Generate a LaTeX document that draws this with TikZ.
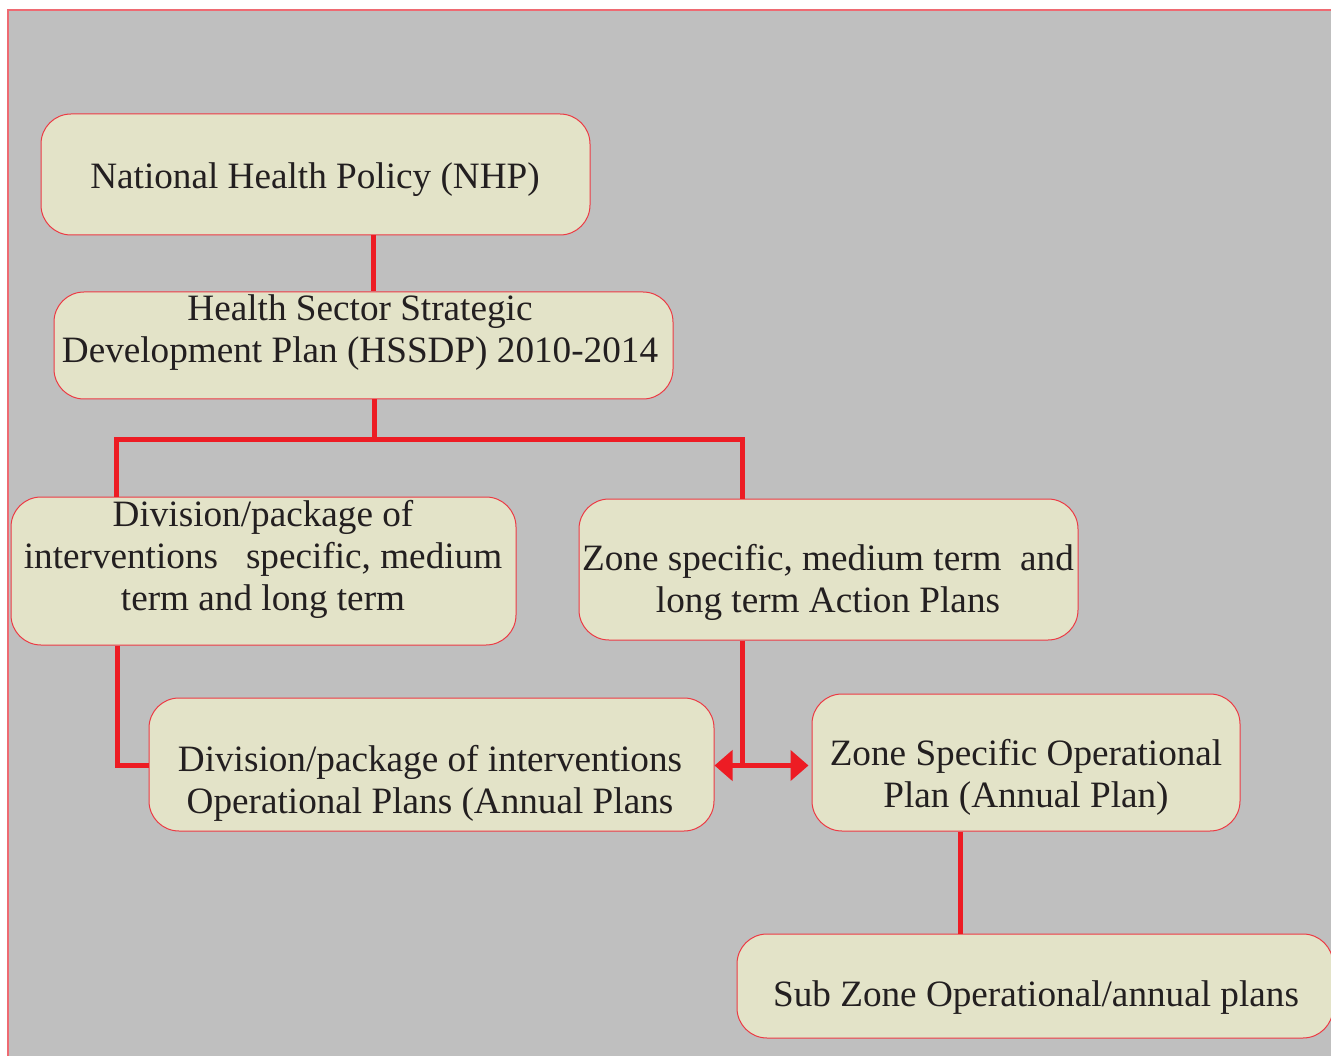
\documentclass[tikz,border=0pt]{standalone}
\usepackage{fontspec}
\setmainfont{Liberation Serif}
\usetikzlibrary{arrows.meta}
\definecolor{bggray}{HTML}{BFBFBF}
\definecolor{boxfill}{HTML}{E3E3C8}
\definecolor{boxline}{HTML}{EC3A44}
\definecolor{framered}{HTML}{EE6A72}
\definecolor{connred}{HTML}{ED1C24}
\definecolor{txt}{HTML}{231F20}
\tikzset{
  box/.style={draw=boxline, line width=1pt, fill=boxfill, rounded corners=30pt, inner sep=0pt},
  lbl/.style={inner sep=0pt, align=center, text=txt, font=\fontsize{37.2}{42}\selectfont},
  conn/.style={draw=connred, line width=5pt},
  tip/.style={-{Triangle[width=30pt,length=18pt]}}
}
\begin{document}
\begin{tikzpicture}[x=1pt,y=-1pt]
\useasboundingbox (0,0) rectangle (1331,1056);
\clip (0,0) rectangle (1331,1056);
\fill[bggray] (8,10) rectangle (1331,1056);
\draw[framered, line width=1.8pt] (8,1056) -- (8,10) -- (1331,10);

% boxes
\node[box, minimum width=549pt, minimum height=121pt] (nhp) at (315.5,174.5) {};
\node[box, minimum width=619pt, minimum height=107pt] (hs) at (363.5,345.5) {};
\node[box, minimum width=505pt, minimum height=148pt] (div) at (263.5,571) {};
\node[box, minimum width=499pt, minimum height=141pt] (zone) at (828.5,569.5) {};
\node[box, minimum width=565pt, minimum height=133pt] (divop) at (431.5,764.5) {};
\node[box, minimum width=428pt, minimum height=137pt] (zoneop) at (1026,762.5) {};
\node[box, minimum width=596pt, minimum height=104pt] (sub) at (1035,986) {};

% texts
\node[lbl] (tnhp) at (315,179.3) {National Health Policy (NHP)};
\node[lbl] (ths) at (360,332.5) {Health Sector Strategic\\Development Plan (HSSDP) 2010-2014};
\node[lbl] (tdiv) at (263,559.5) {Division/package of\\interventions\ \ \ specific, medium\\term and long term};
\node[lbl] (tzone) at (828,582.5) {Zone specific, medium term\ \ and\\long term Action Plans};
\node[lbl] (tdivop) at (430,783.5) {Division/package of interventions\\Operational Plans (Annual Plans};
\node[lbl] (tzoneop) at (1026,777.5) {Zone Specific Operational\\Plan (Annual Plan)};
\node[lbl] (tsub) at (1036,997.4) {Sub Zone Operational/annual plans};

% junction coordinates
\coordinate (t) at (373,260);
\coordinate (b) at (374,440);
\coordinate (bl) at (116,440);
\coordinate (br) at (742,440);
\coordinate (k) at (117,765.5);
\coordinate (j) at (742,765.5);
\coordinate (s) at (960,880);

% connectors
\draw[conn] (nhp.south -| t) -- (hs.north -| t);
\draw[conn] (hs.south -| b) -- (b);
\draw[conn] (div.north -| bl) -- (bl) -- (br) -- (zone.north -| br);
\draw[conn] (div.south -| k) -- (k) -- (divop.west |- k);
\draw[conn] (zone.south -| j) -- (j);
\draw[conn, tip] (j) -- (divop.east |- j);
\draw[conn, tip] (j) -- ([xshift=-3pt]zoneop.west |- j);
\draw[conn] (zoneop.south -| s) -- (sub.north -| s);
\end{tikzpicture}
\end{document}
